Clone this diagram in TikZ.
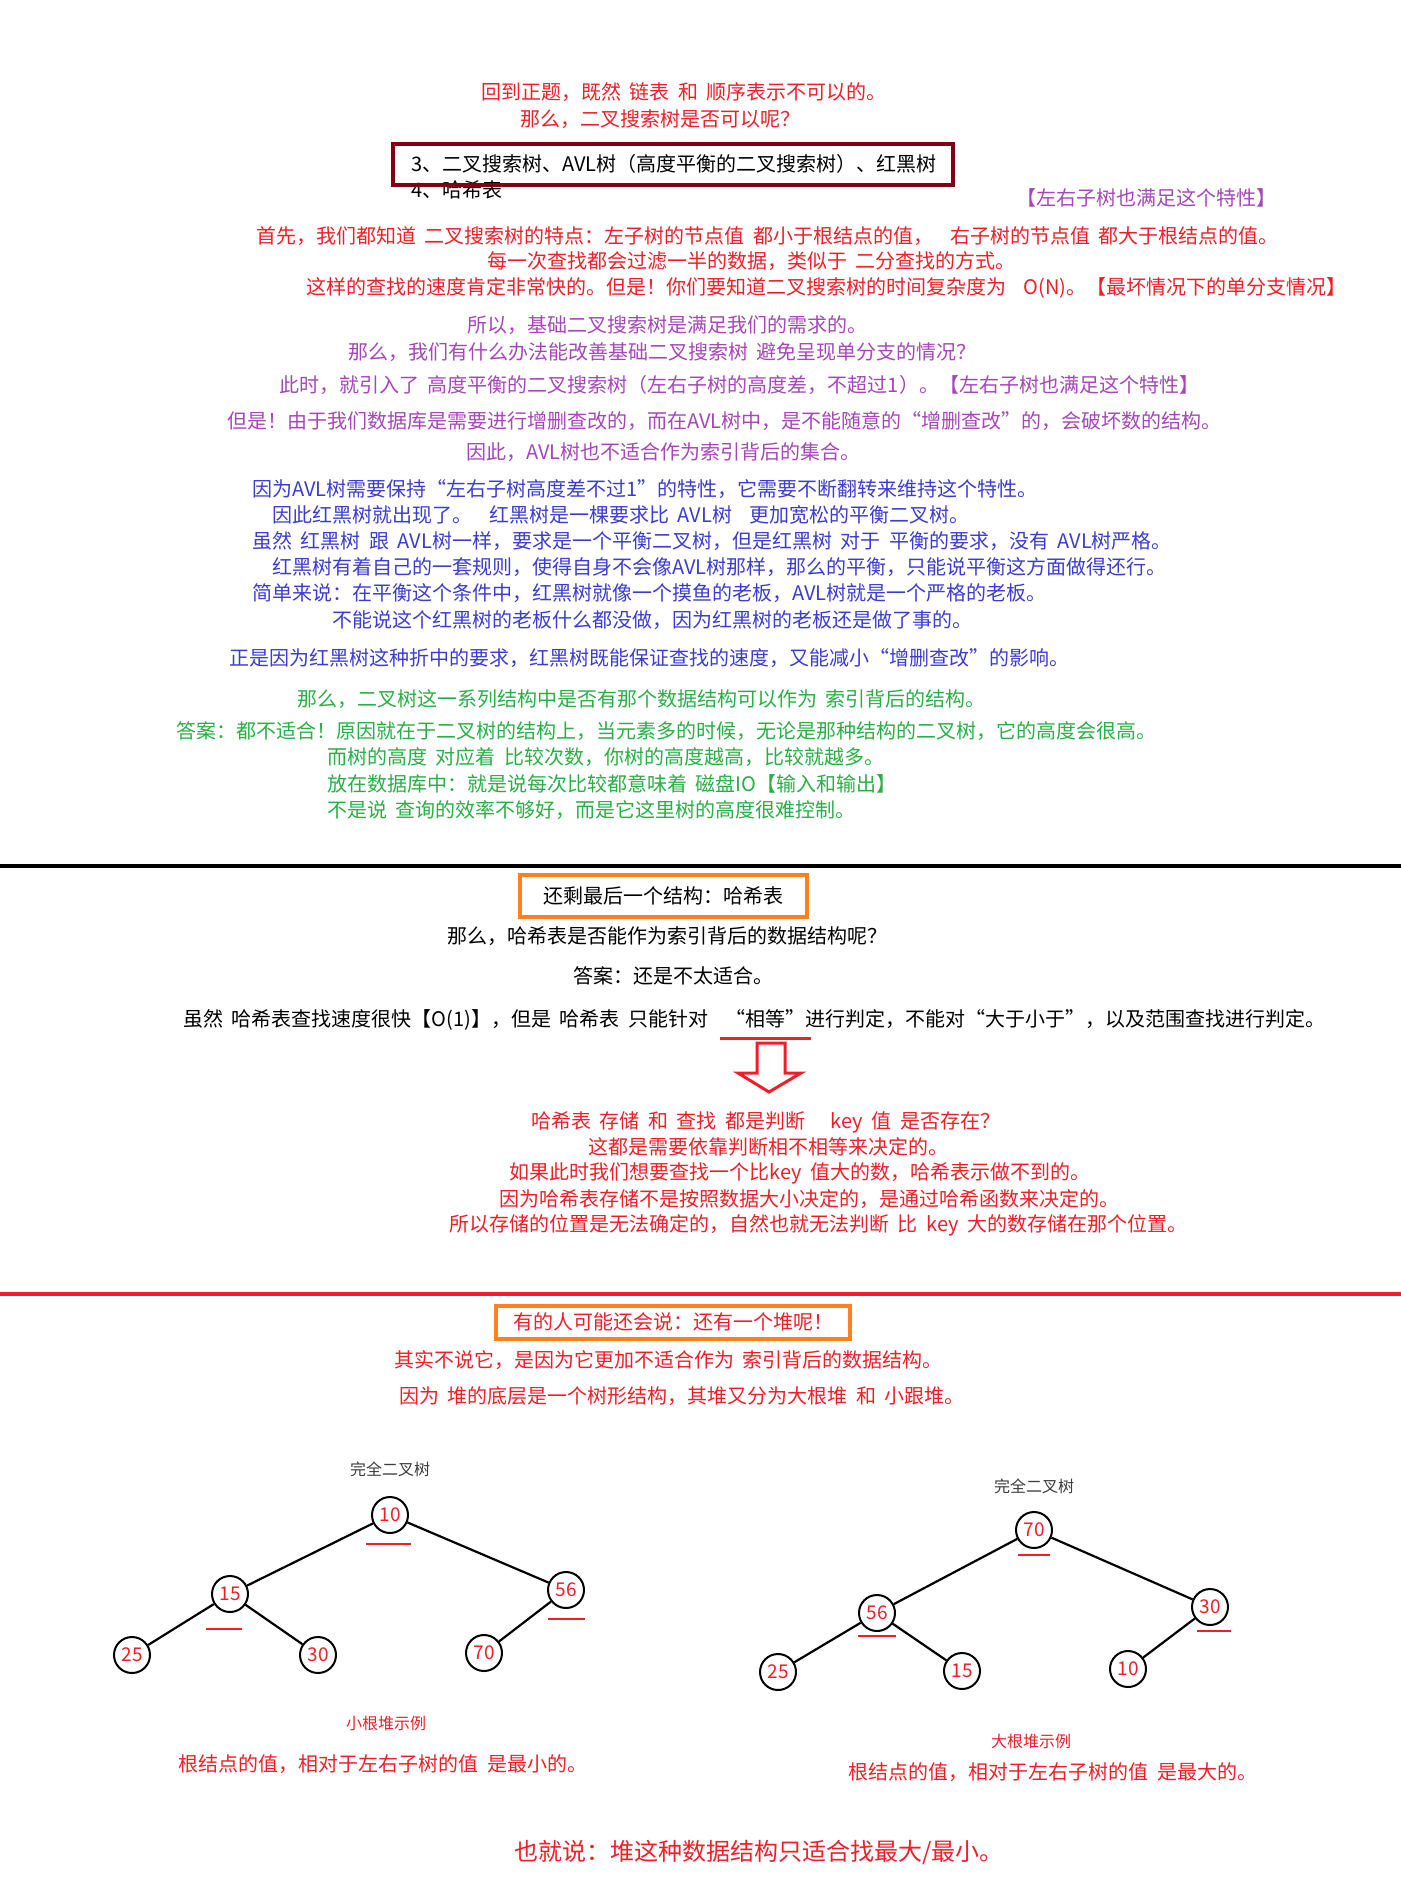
\documentclass[tikz,border=0pt]{standalone}
\usepackage{fontspec}
\setmainfont{Noto Sans CJK SC}[WordSpace=1.9]
\usepackage{xcolor}
\usepackage{tikz}
\usetikzlibrary{positioning}

\definecolor{txtred}{RGB}{240,30,40}
\definecolor{txtpurple}{RGB}{165,70,185}
\definecolor{txtblue}{RGB}{60,60,210}
\definecolor{txtgreen}{RGB}{40,175,70}
\definecolor{boxdark}{RGB}{128,0,20}
\definecolor{boxorange}{RGB}{255,128,32}
\definecolor{titlegray}{RGB}{60,60,60}

\tikzset{
	line/.style={anchor=west, inner sep=0pt, font=\fontsize{10pt}{12pt}\selectfont},
	heapnode/.style={circle, draw=black, line width=1pt, minimum size=18pt, inner sep=0pt,
		text=txtred, font=\fontsize{9.5pt}{10pt}\selectfont},
	heapedge/.style={line width=1.1pt},
	redstroke/.style={draw=txtred, line width=0.8pt},
	smalltxt/.style={inner sep=0pt, font=\fontsize{8pt}{9pt}\selectfont},
}

\begin{document}
\begin{tikzpicture}[x=0.5pt,y=-0.5pt]
	
	% page: pixel coordinates, y downwards
	\fill[white] (0,0) rectangle (1401,1879);
	\useasboundingbox (0,0) rectangle (1401,1879);
	
	%%%%%%%%%%%%%%%%%%%%%%%%%%%%%%%%%%%%%%%%%%%%%%%%%%%%%%%%%%%%%%
	% part 1: binary search tree, AVL, red-black tree
	\node[line, text=txtred] (A1) at (481,92) {回到正题，既然 链表 和 顺序表示不可以的。};
	\node[line, text=txtred] (A2) at (520,119) {那么，二叉搜索树是否可以呢？};
	
	\node[line] (A3) at (411,164) {3、二叉搜索树、AVL树（高度平衡的二叉搜索树）、红黑树};
	\node[line] (A4) at (411,190) {4、哈希表};
	\draw[boxdark, line width=2pt] (393,144) rectangle (953,185);
	\node[line, text=txtpurple] (A5) at (1016,198) {【左右子树也满足这个特性】};
	
	\node[line, text=txtred] (B1) at (256,236) {首先，我们都知道 二叉搜索树的特点：左子树的节点值 都小于根结点的值，\ \ 右子树的节点值 都大于根结点的值。};
	\node[line, text=txtred] (B2) at (487,261) {每一次查找都会过滤一半的数据，类似于 二分查找的方式。};
	\node[line, text=txtred] (B3) at (306,288) {这样的查找的速度肯定非常快的。但是！你们要知道二叉搜索树的时间复杂度为\ \ O(N)。【最坏情况下的单分支情况】};
	
	\node[line, text=txtpurple] (C1) at (467,325) {所以，基础二叉搜索树是满足我们的需求的。};
	\node[line, text=txtpurple] (C2) at (348,352) {那么，我们有什么办法能改善基础二叉搜索树 避免呈现单分支的情况？};
	\node[line, text=txtpurple] (C3) at (279,385) {此时，就引入了 高度平衡的二叉搜索树（左右子树的高度差，不超过1）。【左右子树也满足这个特性】};
	\node[line, text=txtpurple] (C4) at (227,421) {但是！由于我们数据库是需要进行增删查改的，而在AVL树中，是不能随意的“增删查改”的，会破坏数的结构。};
	\node[line, text=txtpurple] (C5) at (466,452) {因此，AVL树也不适合作为索引背后的集合。};
	
	\node[line, text=txtblue] (D1) at (252,489) {因为AVL树需要保持“左右子树高度差不过1”的特性，它需要不断翻转来维持这个特性。};
	\node[line, text=txtblue] (D2) at (272,515) {因此红黑树就出现了。\ \ 红黑树是一棵要求比 AVL树\ \ 更加宽松的平衡二叉树。};
	\node[line, text=txtblue] (D3) at (252,541) {虽然 红黑树 跟 AVL树一样，要求是一个平衡二叉树，但是红黑树 对于 平衡的要求，没有 AVL树严格。};
	\node[line, text=txtblue] (D4) at (272,567) {红黑树有着自己的一套规则，使得自身不会像AVL树那样，那么的平衡，只能说平衡这方面做得还行。};
	\node[line, text=txtblue] (D5) at (252,593) {简单来说：在平衡这个条件中，红黑树就像一个摸鱼的老板，AVL树就是一个严格的老板。};
	\node[line, text=txtblue] (D6) at (332,620) {不能说这个红黑树的老板什么都没做，因为红黑树的老板还是做了事的。};
	\node[line, text=txtblue] (D7) at (229,658) {正是因为红黑树这种折中的要求，红黑树既能保证查找的速度，又能减小“增删查改”的影响。};
	
	\node[line, text=txtgreen] (E1) at (297,699) {那么，二叉树这一系列结构中是否有那个数据结构可以作为 索引背后的结构。};
	\node[line, text=txtgreen] (E2) at (176,731) {答案：都不适合！原因就在于二叉树的结构上，当元素多的时候，无论是那种结构的二叉树，它的高度会很高。};
	\node[line, text=txtgreen] (E3) at (327,757) {而树的高度 对应着 比较次数，你树的高度越高，比较就越多。};
	\node[line, text=txtgreen] (E4) at (327,784) {放在数据库中：就是说每次比较都意味着 磁盘IO【输入和输出】};
	\node[line, text=txtgreen] (E5) at (327,810) {不是说 查询的效率不够好，而是它这里树的高度很难控制。};
	
	\draw[black, line width=2pt] (0,866) -- (1401,866);
	
	%%%%%%%%%%%%%%%%%%%%%%%%%%%%%%%%%%%%%%%%%%%%%%%%%%%%%%%%%%%%%%
	% part 2: hash table
	\node[draw=boxorange, line width=2pt, minimum width=143.5pt, minimum height=21pt,
		font=\fontsize{10pt}{12pt}\selectfont] (H0) at (663,896) {还剩最后一个结构：哈希表};
	\node[line] (H1) at (447,936) {那么，哈希表是否能作为索引背后的数据结构呢？};
	\node[line] (H2) at (573,976) {答案：还是不太适合。};
	\node[line] (H3) at (183,1020) {虽然 哈希表查找速度很快【O(1)】，但是 哈希表 只能针对\ \ “相等”进行判定，不能对“大于小于”，以及范围查找进行判定。};
	
	% underline and hollow arrow
	\draw[txtred, line width=1.5pt] (720,1038) -- (811,1038);
	\draw[txtred, line width=1.5pt, line join=miter]
		(757,1043) -- (785,1043) -- (785,1073) -- (801,1073) -- (769,1092)
		-- (738,1073) -- (757,1073) -- cycle;
	
	\node[line, text=txtred] (K1) at (531,1122) {哈希表 存储 和 查找 都是判断\ \ \ key 值 是否存在？};
	\node[line, text=txtred] (K2) at (588,1147) {这都是需要依靠判断相不相等来决定的。};
	\node[line, text=txtred] (K3) at (509,1173) {如果此时我们想要查找一个比key 值大的数，哈希表示做不到的。};
	\node[line, text=txtred] (K4) at (499,1199) {因为哈希表存储不是按照数据大小决定的，是通过哈希函数来决定的。};
	\node[line, text=txtred] (K5) at (449,1225) {所以存储的位置是无法确定的，自然也就无法判断 比 key 大的数存储在那个位置。};
	
	\draw[txtred, line width=2pt] (0,1294) -- (1401,1294);
	
	%%%%%%%%%%%%%%%%%%%%%%%%%%%%%%%%%%%%%%%%%%%%%%%%%%%%%%%%%%%%%%
	% part 3: heap
	\node[draw=boxorange, line width=2pt, minimum width=177pt, minimum height=16.5pt, text=txtred,
		font=\fontsize{10pt}{12pt}\selectfont] (P0) at (673,1322) {有的人可能还会说：还有一个堆呢！};
	\node[line, text=txtred] (P1) at (394,1360) {其实不说它，是因为它更加不适合作为 索引背后的数据结构。};
	\node[line, text=txtred] (P2) at (399,1396) {因为 堆的底层是一个树形结构，其堆又分为大根堆 和 小跟堆。};
	
	% small root heap
	\node[smalltxt, text=titlegray] (S0) at (390,1469) {完全二叉树};
	\node[heapnode] (S10) at (390,1515) {10};
	\node[heapnode] (S15) at (230,1594) {15};
	\node[heapnode] (S56) at (566,1590) {56};
	\node[heapnode] (S25) at (132,1655) {25};
	\node[heapnode] (S30) at (318,1655) {30};
	\node[heapnode] (S70) at (484,1653) {70};
	\draw[heapedge] (S10) -- (S15);
	\draw[heapedge] (S10) -- (S56);
	\draw[heapedge] (S15) -- (S25);
	\draw[heapedge] (S15) -- (S30);
	\draw[heapedge] (S56) -- (S70);
	\draw[redstroke] (366,1544) -- (411,1544);
	\draw[redstroke] (206,1629) -- (242,1629);
	\draw[redstroke] (548,1619) -- (585,1619);
	\node[smalltxt, text=txtred] (S1) at (386,1723) {小根堆示例};
	\node[inner sep=0pt, text=txtred, font=\fontsize{10pt}{12pt}\selectfont] (S2) at (383,1764) {根结点的值，相对于左右子树的值 是最小的。};
	
	% big root heap
	\node[smalltxt, text=titlegray] (M0) at (1034,1486) {完全二叉树};
	\node[heapnode] (M70) at (1034,1530) {70};
	\node[heapnode] (M56) at (877,1613) {56};
	\node[heapnode] (M30) at (1210,1607) {30};
	\node[heapnode] (M25) at (778,1672) {25};
	\node[heapnode] (M15) at (962,1671) {15};
	\node[heapnode] (M10) at (1128,1669) {10};
	\draw[heapedge] (M70) -- (M56);
	\draw[heapedge] (M70) -- (M30);
	\draw[heapedge] (M56) -- (M25);
	\draw[heapedge] (M56) -- (M15);
	\draw[heapedge] (M30) -- (M10);
	\draw[redstroke] (1018,1555) -- (1050,1555);
	\draw[redstroke] (858,1636) -- (896,1636);
	\draw[redstroke] (1197,1631) -- (1231,1631);
	\node[smalltxt, text=txtred] (M1) at (1031,1741) {大根堆示例};
	\node[inner sep=0pt, text=txtred, font=\fontsize{10pt}{12pt}\selectfont] (M2) at (1053,1772) {根结点的值，相对于左右子树的值 是最大的。};
	
	\node[inner sep=0pt, text=txtred, font=\fontsize{12pt}{14pt}\selectfont] (Z0) at (759,1852) {也就说：堆这种数据结构只适合找最大/最小。};
	
\end{tikzpicture}
\end{document}
